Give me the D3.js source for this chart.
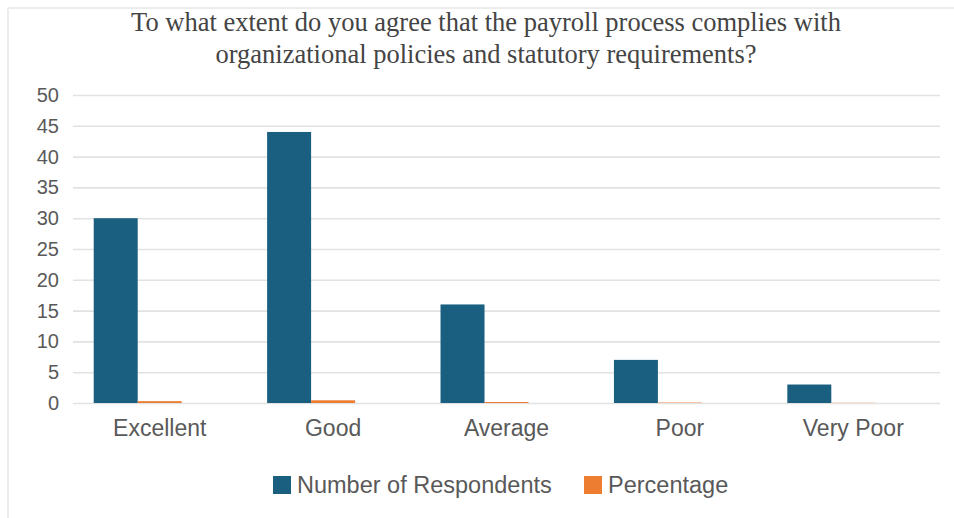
<!DOCTYPE html>
<html>
<head>
<meta charset="utf-8">
<script src="https://cdn.jsdelivr.net/npm/d3@7"></script>
<style>
  html, body { margin: 0; padding: 0; background: #fff; }
  svg { display: block; }
</style>
</head>
<body>
<svg id="chart" width="954" height="518"></svg>
<script>
// Survey responses per rating
const categories = ["Excellent", "Good", "Average", "Poor", "Very Poor"];
const respondents = [30, 44, 16, 7, 3];
const percentage = [0.30, 0.44, 0.16, 0.07, 0.03];
const seriesNames = ["Number of Respondents", "Percentage", ""];
const yTicks = [0, 5, 10, 15, 20, 25, 30, 35, 40, 45, 50];
const titleLines = [
  "To what extent do you agree that the payroll process complies with",
  "organizational policies and statutory requirements?"
];

const colors = { "Number of Respondents": "#1a5f80", "Percentage": "#ed7d31", "": "none" };

const svg = d3.select("#chart");
const W = 954, H = 518;
const plot = { left: 73, right: 940, top: 95, bottom: 403 };
const sans = "'Liberation Sans', Arial, sans-serif";

// Frame edges (top and left)
svg.append("line").attr("x1", 8).attr("x2", W).attr("y1", 8).attr("y2", 8)
  .attr("stroke", "#ececec").attr("stroke-width", 2);
svg.append("line").attr("x1", 8).attr("x2", 8).attr("y1", 8).attr("y2", H)
  .attr("stroke", "#ececec").attr("stroke-width", 2);

// Title
svg.append("g").selectAll("text").data(titleLines).join("text")
  .attr("x", 486).attr("y", (d, i) => 31 + i * 32)
  .attr("text-anchor", "middle")
  .attr("font-family", "'Liberation Serif', 'Times New Roman', serif")
  .attr("font-size", 26.5)
  .attr("fill", "#444")
  .text(d => d);

const y = d3.scaleLinear().domain([0, 50]).range([plot.bottom, plot.top]);
const x0 = d3.scaleBand().domain(categories).range([plot.left, plot.right])
  .paddingInner(0.239).paddingOuter(0.1195);
const x1 = d3.scaleBand().domain(seriesNames).range([0, x0.bandwidth()]);

// Gridlines and y labels
const yAxis = d3.axisLeft(y).tickValues(yTicks).tickSize(-(plot.right - plot.left)).tickPadding(14);
const gy = svg.append("g").attr("transform", `translate(${plot.left},0)`).call(yAxis);
gy.select(".domain").remove();
gy.selectAll(".tick line").attr("stroke", "#e2e2e2").attr("stroke-width", 1.6);
gy.selectAll(".tick text")
  .attr("font-family", sans)
  .attr("font-size", 20).attr("fill", "#595959");

// Bars
const groups = svg.append("g").selectAll("g").data(categories).join("g")
  .attr("transform", d => `translate(${x0(d)},0)`);
groups.append("rect")
  .attr("x", x1("Number of Respondents"))
  .attr("y", (d, i) => y(respondents[i]))
  .attr("width", x1.bandwidth())
  .attr("height", (d, i) => y(0) - y(respondents[i]))
  .attr("fill", colors["Number of Respondents"]);
groups.append("rect")
  .attr("x", x1("Percentage"))
  .attr("y", (d, i) => y(percentage[i]))
  .attr("width", x1.bandwidth())
  .attr("height", (d, i) => y(0) - y(percentage[i]))
  .attr("fill", colors["Percentage"]);

// Category labels
const xAxis = d3.axisBottom(x0).tickSize(0).tickPadding(17);
const gx = svg.append("g").attr("transform", `translate(0,${plot.bottom})`).call(xAxis);
gx.select(".domain").remove();
gx.selectAll(".tick text")
  .attr("font-family", sans)
  .attr("font-size", 23).attr("fill", "#595959");

// Legend
const legendItems = [
  { name: "Number of Respondents", x: 273 },
  { name: "Percentage", x: 584 }
];
const lg = svg.append("g").selectAll("g").data(legendItems).join("g")
  .attr("transform", d => `translate(${d.x},476)`);
lg.append("rect").attr("width", 18).attr("height", 18).attr("fill", d => colors[d.name]);
lg.append("text").attr("x", 24).attr("y", 17)
  .attr("font-family", sans)
  .attr("font-size", 23.5).attr("fill", "#595959")
  .text(d => d.name);
</script>
</body>
</html>
